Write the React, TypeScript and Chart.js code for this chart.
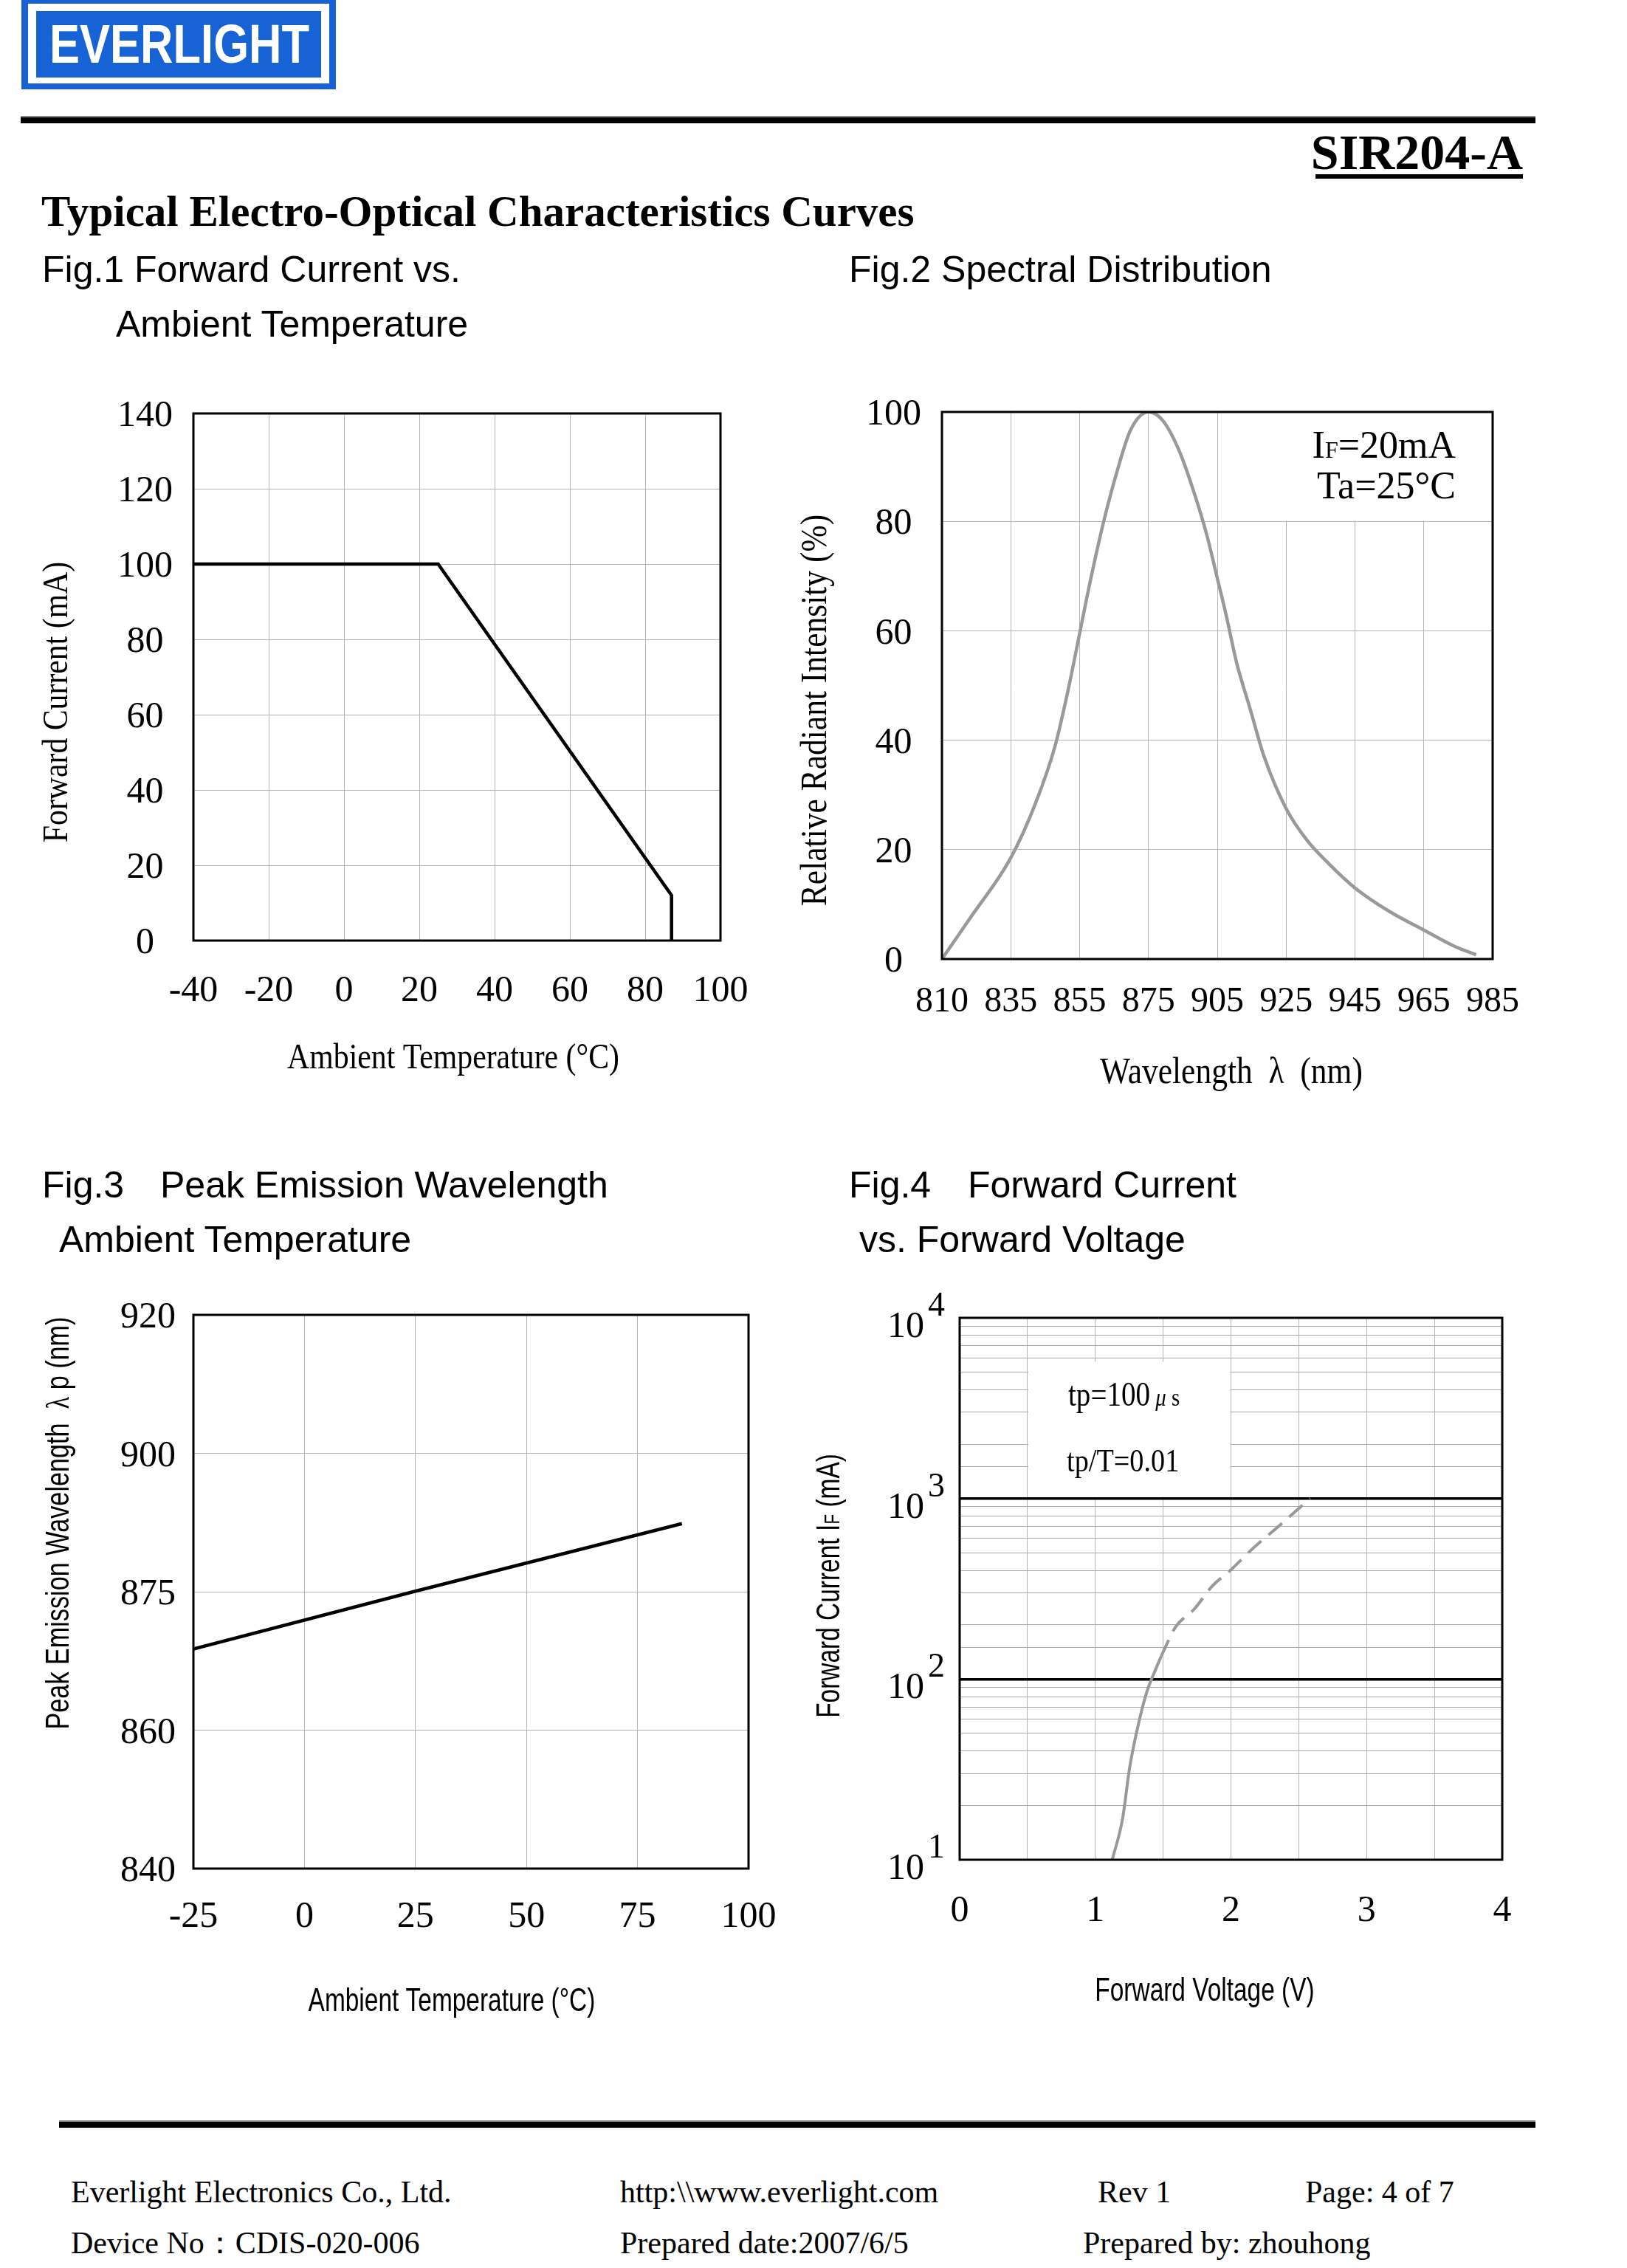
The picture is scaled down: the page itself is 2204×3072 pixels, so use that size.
import React, { useEffect, useRef } from 'react';
import { Chart, registerables } from 'chart.js';

Chart.register(...registerables);

const SERIF = "'Liberation Serif', 'Times New Roman', serif";
const SANS = "'Liberation Sans', Arial, sans-serif";

// ---------- Fig.1 Forward Current vs. Ambient Temperature ----------
const fig1Temperature = [-40, 25, 87, 87];
const fig1ForwardCurrent = [100, 100, 12, 0];

// ---------- Fig.2 Spectral Distribution ----------
const fig2WavelengthTicks = ['810', '835', '855', '875', '905', '925', '945', '965', '985'];
const fig2Position = [0, 0.41, 1.0, 1.36, 1.64, 1.83, 2.0, 2.15, 2.35, 2.55, 2.74, 3.0, 3.21, 3.45, 3.69, 3.85, 4.0, 4.13, 4.28, 4.48, 4.68, 5.0, 5.31, 5.63, 6.0, 6.5, 7.0, 7.45, 7.76];
const fig2Intensity = [0, 7.5, 18.5, 28.5, 38.8, 49, 59.5, 68.8, 80, 89.4, 96.7, 100, 98.4, 92.8, 84.2, 77.4, 69.6, 62.8, 54.2, 45.6, 37, 27.5, 21.6, 17.3, 13, 8.7, 5.3, 2.3, 0.8];

// ---------- Fig.3 Peak Emission Wavelength vs. Ambient Temperature ----------
const fig3WavelengthTicks = [840, 860, 875, 900, 920];
const fig3Temperature = [-25, 25, 85];
const fig3PeakWavelength = [868.8, 875.1, 887.3];

// ---------- Fig.4 Forward Current vs. Forward Voltage ----------
const fig4SolidVoltage = [1.125, 1.2, 1.255, 1.324, 1.382, 1.44, 1.486];
const fig4SolidCurrent = [10, 16.7, 33, 59, 86, 111, 134];
const fig4DashVoltage = [1.486, 1.593, 1.727, 1.862, 2.0, 2.169, 2.36, 2.583];
const fig4DashCurrent = [134, 195, 243, 327, 403, 535, 711, 1000];
const fig4Decades = [1, 2, 3, 4];

const GRID = '#b4b4b4';

type Part = { t: string; size: number; family: string; style?: string; weight?: string };
type TextItem = { parts: Part[]; x: number; y: number; align: 'left' | 'center' | 'right'; rot?: number; sx?: number };
type Rect = { x: number; y: number; w: number; h: number };
type Plot = { left: number; top: number; right: number; bottom: number };

function drawText(ctx: CanvasRenderingContext2D, it: TextItem, ox: number, oy: number) {
  ctx.save();
  ctx.translate(it.x - ox, it.y - oy);
  if (it.rot) ctx.rotate(it.rot);
  ctx.scale(it.sx ?? 1, 1);
  ctx.textBaseline = 'alphabetic';
  ctx.textAlign = 'left';
  ctx.fillStyle = '#000';
  const fonts = it.parts.map((p) => `${p.style || 'normal'} ${p.weight || 'normal'} ${p.size}px ${p.family}`);
  const widths = it.parts.map((p, i) => {
    ctx.font = fonts[i];
    return ctx.measureText(p.t).width;
  });
  const total = widths.reduce((a, b) => a + b, 0);
  let x = it.align === 'left' ? 0 : it.align === 'center' ? -total / 2 : -total;
  it.parts.forEach((p, i) => {
    ctx.font = fonts[i];
    ctx.fillText(p.t, x, 0);
    x += widths[i];
  });
  ctx.restore();
}

function overlayPlugin(rect: Rect, texts: TextItem[], mask?: (c: any) => void, after?: (c: any) => void) {
  return {
    id: 'overlay',
    beforeDatasetsDraw(chart: any) {
      if (mask) {
        const ctx = chart.ctx;
        ctx.save();
        ctx.fillStyle = '#fff';
        mask(chart);
        ctx.restore();
      }
    },
    afterDatasetsDraw(chart: any) {
      const ctx = chart.ctx as CanvasRenderingContext2D;
      const a = chart.chartArea;
      ctx.save();
      ctx.strokeStyle = '#000';
      ctx.lineWidth = 3;
      ctx.strokeRect(a.left, a.top, a.right - a.left, a.bottom - a.top);
      ctx.restore();
      texts.forEach((t) => drawText(ctx, t, rect.x, rect.y));
      if (after) after(chart);
    },
  };
}

function baseOptions(rect: Rect, plot: Plot, xHeight: number) {
  return {
    responsive: false,
    maintainAspectRatio: false,
    animation: false,
    devicePixelRatio: 1,
    events: [],
    layout: {
      padding: {
        left: 0,
        top: plot.top - rect.y,
        right: rect.x + rect.w - plot.right,
        bottom: rect.y + rect.h - plot.bottom - xHeight,
      },
    },
    plugins: { legend: { display: false }, tooltip: { enabled: false } },
  };
}

function tickFont(size: number) {
  return { family: SERIF, size, lineHeight: 1.2 };
}

function ChartCanvas({ rect, make }: { rect: Rect; make: (r: Rect) => any }) {
  const ref = useRef<HTMLCanvasElement>(null);
  useEffect(() => {
    const chart = new Chart(ref.current as HTMLCanvasElement, make(rect));
    return () => chart.destroy();
  }, []);
  return (
    <canvas
      ref={ref}
      width={rect.w}
      height={rect.h}
      style={{ position: 'absolute', left: rect.x, top: rect.y, width: rect.w, height: rect.h }}
    />
  );
}

// ---------- chart configs ----------
function makeFig1(rect: Rect) {
  const plot = { left: 262, top: 560, right: 976, bottom: 1274 };
  const xH = 150;
  const texts: TextItem[] = [
    { parts: [{ t: 'Ambient Temperature (°C)', size: 48, family: SERIF }], x: 614, y: 1447, align: 'center', sx: 0.87 },
    { parts: [{ t: 'Forward Current (mA)', size: 48, family: SERIF }], x: 91, y: 951, align: 'center', rot: -Math.PI / 2, sx: 0.87 },
  ];
  return {
    type: 'line',
    data: {
      datasets: [
        {
          data: fig1Temperature.map((t, i) => ({ x: t, y: fig1ForwardCurrent[i] })),
          borderColor: '#000',
          borderWidth: 4.5,
          pointRadius: 0,
          tension: 0,
        },
      ],
    },
    options: {
      ...baseOptions(rect, plot, xH),
      scales: {
        x: {
          type: 'linear',
          min: -40,
          max: 100,
          afterFit: (s: any) => { s.height = xH; },
          border: { display: false },
          grid: { color: GRID, lineWidth: 1, drawTicks: false },
          ticks: { stepSize: 20, padding: 39, font: tickFont(50), color: '#000', maxRotation: 0, autoSkip: false },
        },
        y: {
          type: 'linear',
          min: 0,
          max: 140,
          afterFit: (s: any) => { s.width = plot.left - rect.x; },
          border: { display: false },
          grid: { color: GRID, lineWidth: 1, drawTicks: false },
          ticks: { stepSize: 20, padding: 28, labelOffset: 4, crossAlign: 'center', font: tickFont(50), color: '#000' },
        },
      },
    },
    plugins: [overlayPlugin(rect, texts)],
  };
}

function makeFig2(rect: Rect) {
  const plot = { left: 1276, top: 554, right: 2022, bottom: 1299 };
  const xH = 150;
  const texts: TextItem[] = [
    { parts: [{ t: 'Wavelength  λ  (nm)', size: 50, family: SERIF }], x: 1668, y: 1467, align: 'center', sx: 0.87 },
    { parts: [{ t: 'Relative Radiant Intensity (%)', size: 50, family: SERIF }], x: 1119, y: 962, align: 'center', rot: -Math.PI / 2, sx: 0.87 },
    {
      parts: [
        { t: 'I', size: 52, family: SERIF },
        { t: 'F', size: 32, family: SERIF },
        { t: '=20mA', size: 52, family: SERIF },
      ],
      x: 1972, y: 620, align: 'right',
    },
    { parts: [{ t: 'Ta=25°C', size: 52, family: SERIF }], x: 1972, y: 675, align: 'right' },
  ];
  const mask = (c: any) => {
    const xs = c.scales.x;
    const ys = c.scales.y;
    const a = c.chartArea;
    const x0 = xs.getPixelForValue(4.5);
    const y1 = ys.getPixelForValue(80) - 1;
    c.ctx.fillRect(x0, a.top + 1, a.right - x0 - 1, y1 - a.top - 1);
  };
  return {
    type: 'line',
    data: {
      datasets: [
        {
          data: fig2Position.map((p, i) => ({ x: p, y: fig2Intensity[i] })),
          borderColor: '#999999',
          borderWidth: 4.5,
          pointRadius: 0,
          cubicInterpolationMode: 'monotone',
        },
      ],
    },
    options: {
      ...baseOptions(rect, plot, xH),
      scales: {
        x: {
          type: 'linear',
          min: 0,
          max: fig2WavelengthTicks.length - 1,
          afterFit: (s: any) => { s.height = xH; },
          border: { display: false },
          grid: { color: GRID, lineWidth: 1, drawTicks: false },
          ticks: {
            stepSize: 1,
            padding: 30,
            font: tickFont(48),
            color: '#000',
            maxRotation: 0,
            autoSkip: false,
            callback: (v: number) => fig2WavelengthTicks[Math.round(v)] ?? '',
          },
        },
        y: {
          type: 'linear',
          min: 0,
          max: 100,
          afterFit: (s: any) => { s.width = plot.left - rect.x; },
          border: { display: false },
          grid: { color: GRID, lineWidth: 1, drawTicks: false },
          ticks: { stepSize: 20, padding: 28, labelOffset: 4, crossAlign: 'center', font: tickFont(50), color: '#000' },
        },
      },
    },
    plugins: [overlayPlugin(rect, texts, mask)],
  };
}

function nmToSlot(nm: number) {
  const t = fig3WavelengthTicks;
  for (let i = 0; i < t.length - 1; i++) {
    if (nm <= t[i + 1]) return i + (nm - t[i]) / (t[i + 1] - t[i]);
  }
  return t.length - 1;
}

function makeFig3(rect: Rect) {
  const plot = { left: 262, top: 1781, right: 1014, bottom: 2531 };
  const xH = 150;
  const texts: TextItem[] = [
    { parts: [{ t: 'Ambient Temperature (°C)', size: 44, family: SANS }], x: 612, y: 2724, align: 'center', sx: 0.76 },
    {
      parts: [
        { t: 'Peak Emission Wavelength  ', size: 45, family: SANS },
        { t: 'λ', size: 45, family: SERIF },
        { t: ' p (nm)', size: 45, family: SANS },
      ],
      x: 93, y: 2063, align: 'center', rot: -Math.PI / 2, sx: 0.76,
    },
  ];
  return {
    type: 'line',
    data: {
      datasets: [
        {
          data: fig3Temperature.map((t, i) => ({ x: t, y: nmToSlot(fig3PeakWavelength[i]) })),
          borderColor: '#000',
          borderWidth: 4.5,
          pointRadius: 0,
          tension: 0,
        },
      ],
    },
    options: {
      ...baseOptions(rect, plot, xH),
      scales: {
        x: {
          type: 'linear',
          min: -25,
          max: 100,
          afterFit: (s: any) => { s.height = xH; },
          border: { display: false },
          grid: { color: GRID, lineWidth: 1, drawTicks: false },
          ticks: { stepSize: 25, padding: 36, font: tickFont(50), color: '#000', maxRotation: 0, autoSkip: false },
        },
        y: {
          type: 'linear',
          min: 0,
          max: fig3WavelengthTicks.length - 1,
          afterFit: (s: any) => { s.width = plot.left - rect.x; },
          border: { display: false },
          grid: { color: GRID, lineWidth: 1, drawTicks: false },
          ticks: {
            stepSize: 1,
            padding: 24,
            labelOffset: 4,
            crossAlign: 'center',
            font: tickFont(50),
            color: '#000',
            callback: (v: number) => String(fig3WavelengthTicks[Math.round(v)] ?? ''),
          },
        },
      },
    },
    plugins: [overlayPlugin(rect, texts)],
  };
}

function makeFig4(rect: Rect) {
  const plot = { left: 1300, top: 1785, right: 2035, bottom: 2519 };
  const xH = 150;
  const texts: TextItem[] = [
    { parts: [{ t: 'Forward Voltage (V)', size: 44, family: SANS }], x: 1632, y: 2710, align: 'center', sx: 0.76 },
    {
      parts: [
        { t: 'Forward Current I', size: 44, family: SANS },
        { t: 'F', size: 30, family: SANS },
        { t: ' (mA)', size: 44, family: SANS },
      ],
      x: 1137, y: 2148, align: 'center', rot: -Math.PI / 2, sx: 0.76,
    },
    {
      parts: [
        { t: 'tp=100', size: 46, family: SERIF },
        { t: ' μ', size: 34, family: SERIF, style: 'italic' },
        { t: ' s', size: 34, family: SERIF },
      ],
      x: 1447, y: 1904, align: 'left', sx: 0.85,
    },
    { parts: [{ t: 'tp/T=0.01', size: 45, family: SERIF }], x: 1445, y: 1993, align: 'left', sx: 0.85 },
  ];
  const mask = (c: any) => {
    const xs = c.scales.x;
    const ys = c.scales.y;
    const x0 = xs.getPixelForValue(0.5) + 1;
    const x1 = xs.getPixelForValue(2.0) - 1;
    const y0 = ys.getPixelForValue(5700);
    const y1 = ys.getPixelForValue(1000) - 2;
    c.ctx.fillRect(x0, y0, x1 - x0, y1 - y0);
  };
  const after = (c: any) => {
    const ctx = c.ctx as CanvasRenderingContext2D;
    const ys = c.scales.y;
    fig4Decades.forEach((k) => {
      const py = ys.getPixelForValue(Math.pow(10, k)) + rect.y;
      drawText(ctx, { parts: [{ t: '10', size: 50, family: SERIF }], x: 1252, y: py + 26, align: 'right' }, rect.x, rect.y);
      drawText(ctx, { parts: [{ t: String(k), size: 46, family: SERIF }], x: 1257, y: py - 3, align: 'left' }, rect.x, rect.y);
    });
  };
  const isMajor = (v: number) => v === 100 || v === 1000;
  return {
    type: 'line',
    data: {
      datasets: [
        {
          data: fig4SolidVoltage.map((v, i) => ({ x: v, y: fig4SolidCurrent[i] })),
          borderColor: '#999999',
          borderWidth: 4,
          pointRadius: 0,
          cubicInterpolationMode: 'monotone',
        },
        {
          data: fig4DashVoltage.map((v, i) => ({ x: v, y: fig4DashCurrent[i] })),
          borderColor: '#999999',
          borderWidth: 4,
          borderDash: [24, 13],
          pointRadius: 0,
          cubicInterpolationMode: 'monotone',
        },
      ],
    },
    options: {
      ...baseOptions(rect, plot, xH),
      scales: {
        x: {
          type: 'linear',
          min: 0,
          max: 4,
          afterFit: (s: any) => { s.height = xH; },
          border: { display: false },
          grid: { color: GRID, lineWidth: 1, drawTicks: false },
          ticks: {
            stepSize: 0.5,
            padding: 40,
            font: tickFont(50),
            color: '#000',
            maxRotation: 0,
            autoSkip: false,
            callback: (v: number) => (Number.isInteger(v) ? String(v) : ''),
          },
        },
        y: {
          type: 'logarithmic',
          min: 10,
          max: 10000,
          afterFit: (s: any) => { s.width = plot.left - rect.x; },
          border: { display: false },
          grid: {
            drawTicks: false,
            color: (c: any) => (isMajor(c.tick?.value) ? '#000' : '#a8a8a8'),
            lineWidth: (c: any) => (isMajor(c.tick?.value) ? 3.5 : 1),
          },
          ticks: { display: false, autoSkip: false },
        },
      },
    },
    plugins: [overlayPlugin(rect, texts, mask, after)],
  };
}

// ---------- page text ----------
function Txt({
  x, y, size, family, weight, children, align, color,
}: {
  x: number; y: number; size: number; family: string; weight?: string; children: React.ReactNode; align?: 'left' | 'right'; color?: string;
}) {
  const k = family === SERIF ? 0.8375 : 0.8465;
  return (
    <div
      style={{
        position: 'absolute',
        left: x,
        top: y - k * size,
        fontSize: size,
        lineHeight: 1,
        fontFamily: family,
        fontWeight: (weight as any) || 'normal',
        whiteSpace: 'pre',
        color: color || '#000',
        transform: align === 'right' ? 'translateX(-100%)' : undefined,
      }}
    >
      {children}
    </div>
  );
}

function Box({ x, y, w, h, color }: { x: number; y: number; w: number; h: number; color: string }) {
  return <div style={{ position: 'absolute', left: x, top: y, width: w, height: h, background: color }} />;
}

export default function App() {
  return (
    <div>
      {/* Logo */}
      <Box x={29} y={0} w={426} h={121} color="#1763d6" />
      <Box x={38} y={5} w={408} h={108} color="#ffffff" />
      <Box x={49} y={15} w={386} h={90} color="#1763d6" />
      <div
        style={{
          position: 'absolute',
          left: 67,
          top: 22,
          fontFamily: SANS,
          fontWeight: 'bold',
          fontSize: 75,
          lineHeight: 1,
          color: '#fff',
          transform: 'scaleX(0.82)',
          transformOrigin: '0 0',
          whiteSpace: 'pre',
        }}
      >
        EVERLIGHT
      </div>

      {/* Header rule */}
      <Box x={28} y={157} w={2052} h={2} color="#888" />
      <Box x={28} y={159} w={2052} h={8} color="#000" />

      <Txt x={2063} y={229} size={68} family={SERIF} weight="bold" align="right">SIR204-A</Txt>
      <Box x={1782} y={236} w={281} h={6} color="#000" />

      <Txt x={56} y={306} size={59} family={SERIF} weight="bold">Typical Electro-Optical Characteristics Curves</Txt>

      <Txt x={57} y={382} size={50} family={SANS}>Fig.1 Forward Current vs.</Txt>
      <Txt x={157} y={456} size={50} family={SANS}>Ambient Temperature</Txt>
      <Txt x={1150} y={382} size={50} family={SANS}>Fig.2 Spectral Distribution</Txt>

      <Txt x={57} y={1622} size={50} family={SANS}>Fig.3</Txt>
      <Txt x={217} y={1622} size={50} family={SANS}>Peak Emission Wavelength</Txt>
      <Txt x={80} y={1696} size={50} family={SANS}>Ambient Temperature</Txt>
      <Txt x={1150} y={1622} size={50} family={SANS}>Fig.4</Txt>
      <Txt x={1311} y={1622} size={50} family={SANS}>Forward Current</Txt>
      <Txt x={1164} y={1696} size={50} family={SANS}>vs. Forward Voltage</Txt>

      <ChartCanvas rect={{ x: 0, y: 500, w: 1060, h: 1000 }} make={makeFig1} />
      <ChartCanvas rect={{ x: 1060, y: 500, w: 1144, h: 1000 }} make={makeFig2} />
      <ChartCanvas rect={{ x: 0, y: 1700, w: 1110, h: 1072 }} make={makeFig3} />
      <ChartCanvas rect={{ x: 1060, y: 1700, w: 1144, h: 1072 }} make={makeFig4} />

      {/* Footer */}
      <Box x={80} y={2872} w={2000} h={2} color="#888" />
      <Box x={80} y={2874} w={2000} h={8} color="#000" />
      <Txt x={96} y={2983} size={42} family={SERIF}>Everlight Electronics Co., Ltd.</Txt>
      <Txt x={840} y={2983} size={42} family={SERIF}>{'http:\\\\www.everlight.com'}</Txt>
      <Txt x={1487} y={2983} size={42} family={SERIF}>Rev 1</Txt>
      <Txt x={1768} y={2983} size={42} family={SERIF}>Page: 4 of 7</Txt>
      <Txt x={96} y={3052} size={42} family={SERIF}>Device No：CDIS-020-006</Txt>
      <Txt x={840} y={3052} size={42} family={SERIF}>Prepared date:2007/6/5</Txt>
      <Txt x={1467} y={3052} size={42} family={SERIF}>Prepared by: zhouhong</Txt>
    </div>
  );
}
